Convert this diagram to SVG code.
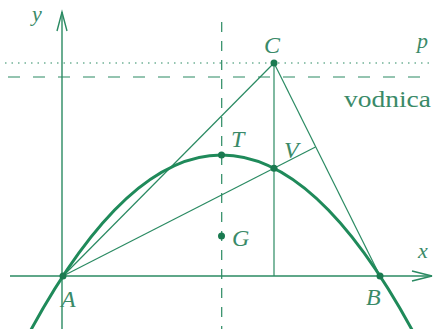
<svg xmlns="http://www.w3.org/2000/svg" width="434" height="329" viewBox="0 0 434 329">
<style>
.thin{stroke:#2a8a62;stroke-width:1.2;fill:none}
.axis{stroke:#2a8a62;stroke-width:1.4;fill:none}
.curve{stroke:#1f8a5a;stroke-width:3;fill:none}
.pt{fill:#1a7a50}
text{font-family:"Liberation Serif","DejaVu Serif","Times New Roman",serif;fill:#3a8a68}
.lbl{font-style:italic;font-size:24px}
.low{font-style:italic;font-size:22px}
.word{font-size:23px}
</style>
<rect width="434" height="329" fill="#ffffff"/>
<g id="guides">
<line class="thin" x1="5" y1="63" x2="434" y2="63" stroke-dasharray="1.5 5"/>
<line class="thin" x1="8" y1="77" x2="420" y2="77" stroke-dasharray="12 13"/>
<line class="thin" x1="221.7" y1="22" x2="221.7" y2="329" stroke-dasharray="10 9"/>
</g>
<g id="axes">
<line class="axis" x1="10" y1="276" x2="432" y2="276"/>
<polyline class="axis" points="412,271 432,276 412,281"/>
<line class="axis" x1="62" y1="12" x2="62" y2="329"/>
<polyline class="axis" points="57,31 62,12 67,31"/>
</g>
<g id="connectors">
<line class="thin" x1="63" y1="276" x2="274" y2="63"/>
<line class="thin" x1="380" y1="276" x2="274" y2="63"/>
<line class="thin" x1="274" y1="63" x2="274" y2="276"/>
<line class="thin" x1="63" y1="276" x2="315.5" y2="147"/>
</g>
<g id="parabola">
<path class="curve" d="M26.5,338.1 Q221.5,-28.1 416.5,338.1"/>
</g>
<g id="A"><circle class="pt" cx="63" cy="276" r="3.5"/><text class="lbl" x="61" y="307">A</text></g>
<g id="B"><circle class="pt" cx="380" cy="276" r="3.5"/><text class="lbl" x="366" y="305">B</text></g>
<g id="C"><circle class="pt" cx="274" cy="63" r="3.5"/><text class="lbl" x="264" y="53">C</text></g>
<g id="T"><circle class="pt" cx="221.5" cy="155" r="3.5"/><text class="lbl" x="231" y="147">T</text></g>
<g id="V"><circle class="pt" cx="274" cy="168.3" r="3.5"/><text class="lbl" x="284" y="158">V</text></g>
<g id="G"><circle class="pt" cx="221.5" cy="236" r="3.5"/><text class="lbl" x="232" y="246">G</text></g>
<g id="labels">
<text class="low" x="32" y="21">y</text>
<text class="low" x="418" y="258">x</text>
<text class="low" x="417" y="48">p</text>
<text class="word" x="344" y="107" textLength="87" lengthAdjust="spacingAndGlyphs">vodnica</text>
</g>
</svg>
